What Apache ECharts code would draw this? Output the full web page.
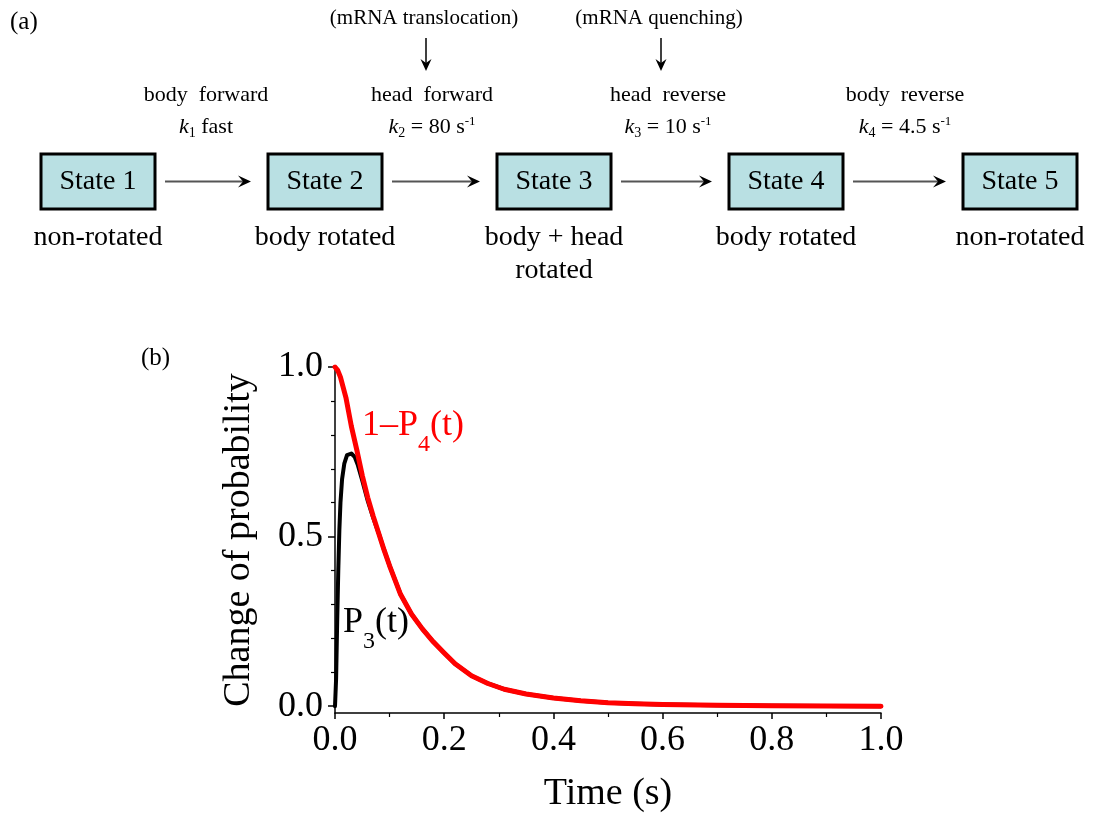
<!DOCTYPE html>
<html>
<head>
<meta charset="utf-8">
<script src="https://cdn.jsdelivr.net/npm/echarts@6/dist/echarts.min.js"></script>
<style>
html,body{margin:0;padding:0;background:#fff;}
#chart{width:1097px;height:815px;}
</style>
</head>
<body>
<div id="chart"></div>
<script>
// ---------------- data ----------------
const timeRed = [0, 0.005, 0.01, 0.02, 0.03, 0.04, 0.05, 0.06, 0.07, 0.08, 0.09, 0.10, 0.12, 0.14, 0.16, 0.18, 0.20, 0.22, 0.25, 0.28, 0.31, 0.35, 0.40, 0.45, 0.50, 0.55, 0.60, 0.70, 0.80, 0.90, 1.00];
const valueRed = [1.0, 0.99, 0.97, 0.91, 0.825, 0.755, 0.68, 0.615, 0.56, 0.51, 0.46, 0.414, 0.33, 0.272, 0.228, 0.19, 0.157, 0.125, 0.09, 0.067, 0.05, 0.036, 0.024, 0.016, 0.010, 0.007, 0.005, 0.003, 0.0015, 0.0005, 0.0];
const timeBlack = [0, 0.002, 0.004, 0.006, 0.008, 0.010, 0.013, 0.017, 0.022, 0.030, 0.036, 0.042, 0.05, 0.06, 0.07, 0.08, 0.09, 0.10, 0.12, 0.14, 0.16, 0.18, 0.20, 0.22, 0.25, 0.28, 0.31, 0.35, 0.40, 0.45, 0.50, 0.55, 0.60, 0.70, 0.80, 0.90, 1.00];
const valueBlack = [0, 0.08, 0.25, 0.40, 0.52, 0.60, 0.67, 0.715, 0.74, 0.745, 0.735, 0.71, 0.665, 0.605, 0.555, 0.51, 0.46, 0.414, 0.33, 0.272, 0.228, 0.19, 0.157, 0.125, 0.09, 0.067, 0.05, 0.036, 0.024, 0.016, 0.010, 0.007, 0.005, 0.003, 0.0015, 0.0005, 0.0];
const xTickValues = [0, 0.2, 0.4, 0.6, 0.8, 1.0];
const yTickValues = [0, 0.5, 1.0];
const yMinorTickValues = [0.1, 0.2, 0.3, 0.4, 0.6, 0.7, 0.8, 0.9];

const stateNames = ['State 1', 'State 2', 'State 3', 'State 4', 'State 5'];
const stateDescriptions = [['non-rotated'], ['body rotated'], ['body + head', 'rotated'], ['body rotated'], ['non-rotated']];
const transitionNames = ['body  forward', 'head  forward', 'head  reverse', 'body  reverse'];
const rateIndex = ['1', '2', '3', '4'];
const rateValues = ['fast', '80', '10', '4.5'];
const annotationTexts = [null, '(mRNA translocation)', '(mRNA quenching)', null];
const curveLabels = [
  {text: '{m|1–P}{s|4}{m|(t)}', t: 0.0495, v: 0.826, color: '#ff0000'},
  {text: '{m|P}{s|3}{m|(t)}', t: 0.0147, v: 0.246, color: '#000000'}
];

// ---------------- layout ----------------
const FONT = "'Liberation Serif', 'Times New Roman', serif";
const boxLeft = [41, 268, 497, 729, 963];
const boxW = 114, boxTop = 154, boxH = 55;
const transCenter = [206, 432, 668, 905];
const annotArrowX = [null, 426, 661];

const chart = echarts.init(document.getElementById('chart'), null, {renderer: 'canvas'});

const option = {
  animation: false,
  backgroundColor: '#ffffff',
  textStyle: {fontFamily: FONT},
  grid: {left: 335, top: 367, width: 546, height: 346, containLabel: false, outerBoundsMode: 'none'},
  xAxis: {
    type: 'value', min: 0, max: 1, interval: 0.2,
    name: 'Time (s)', nameLocation: 'middle', nameGap: 62,
    nameTextStyle: {fontSize: 38, color: '#000', fontFamily: FONT},
    axisLine: {show: true, onZero: false, lineStyle: {color: '#000', width: 1.5}},
    axisTick: {show: true, inside: false, length: 6, lineStyle: {color: '#000', width: 1.5}},
    minorTick: {show: true, splitNumber: 2, length: 4, lineStyle: {color: '#000', width: 1.2}},
    axisLabel: {
      fontSize: 36, color: '#000', fontFamily: FONT, margin: 10,
      customValues: xTickValues,
      formatter: v => v.toFixed(1)
    },
    splitLine: {show: false}
  },
  yAxis: [
    {
      type: 'value', min: -0.02, max: 1.0,
      name: 'Change of probability', nameLocation: 'middle', nameGap: 77,
      nameTextStyle: {fontSize: 38, color: '#000', fontFamily: FONT},
      axisLine: {show: true, onZero: false, lineStyle: {color: '#000', width: 1.5}},
      axisTick: {show: true, inside: false, length: 7, customValues: yTickValues, lineStyle: {color: '#000', width: 1.5}},
      axisLabel: {
        fontSize: 36, color: '#000', fontFamily: FONT, margin: 12,
        customValues: yTickValues,
        formatter: v => v.toFixed(1)
      },
      splitLine: {show: false}
    },
    {
      type: 'value', min: -0.02, max: 1.0, position: 'left',
      axisLine: {show: false},
      axisTick: {show: true, inside: false, length: 4, customValues: yMinorTickValues, lineStyle: {color: '#000', width: 1.2}},
      axisLabel: {show: false},
      splitLine: {show: false}
    }
  ],
  series: [
    {
      name: 'P3(t)', type: 'line', yAxisIndex: 0, showSymbol: false, symbol: 'none', smooth: false, z: 2,
      lineStyle: {color: '#000000', width: 4, join: 'round', cap: 'round'},
      data: timeBlack.map((t, i) => [t, valueBlack[i]])
    },
    {
      name: '1-P4(t)', type: 'line', yAxisIndex: 0, showSymbol: false, symbol: 'none', smooth: false, z: 3,
      lineStyle: {color: '#ff0000', width: 5, join: 'round', cap: 'round'},
      data: timeRed.map((t, i) => [t, valueRed[i]])
    }
  ]
};
chart.setOption(option);

// ---------------- diagram (a) and annotations ----------------
const g = [];
function txt(x, y, text, size, extra) {
  const style = Object.assign({
    text: text, x: 0, y: 0, fontSize: size, fontFamily: FONT, fill: '#000',
    align: 'center', verticalAlign: 'middle'
  }, extra || {});
  g.push({type: 'text', x: x, y: y, z: 10, style: style});
}
function arrowRight(x1, x2, y) {
  g.push({type: 'line', z: 9, shape: {x1: x1, y1: y, x2: x2 - 6, y2: y}, style: {stroke: '#555', lineWidth: 2}});
  g.push({type: 'polygon', z: 9, shape: {points: [[x2, y], [x2 - 13, y - 6], [x2 - 8, y], [x2 - 13, y + 6]]}, style: {fill: '#000'}});
}
function arrowDown(x, y1, y2) {
  g.push({type: 'line', z: 9, shape: {x1: x, y1: y1, x2: x, y2: y2 - 6}, style: {stroke: '#000', lineWidth: 1.5}});
  g.push({type: 'polygon', z: 9, shape: {points: [[x, y2], [x - 5.5, y2 - 12], [x, y2 - 8], [x + 5.5, y2 - 12]]}, style: {fill: '#000'}});
}

txt(10, 22, '(a)', 25, {align: 'left'});
txt(141, 358, '(b)', 25, {align: 'left'});

stateNames.forEach((s, i) => {
  const x = boxLeft[i];
  g.push({type: 'rect', z: 8, shape: {x: x, y: boxTop, width: boxW, height: boxH},
    style: {fill: '#b9e0e3', stroke: '#000', lineWidth: 3}});
  txt(x + boxW / 2, boxTop + boxH / 2, s, 28);
  stateDescriptions[i].forEach((line, j) => {
    txt(x + boxW / 2, 238 + 33 * j, line, 28);
  });
});

const rich = {
  n: {fontSize: 22, fontFamily: FONT, fill: '#000'},
  i: {fontSize: 22, fontFamily: FONT, fontStyle: 'italic', fill: '#000'},
  sb: {fontSize: 14, fontFamily: FONT, fill: '#000', padding: [12, 0, 0, 0]},
  sp: {fontSize: 13, fontFamily: FONT, fill: '#000', padding: [0, 0, 10, 0]}
};
transitionNames.forEach((name, i) => {
  const x1 = boxLeft[i] + boxW + 10;
  const x2 = boxLeft[i + 1] - 17;
  arrowRight(x1, x2, boxTop + boxH / 2);
  const cx = transCenter[i];
  txt(cx, 95, name, 22);
  let rateText;
  if (rateValues[i] === 'fast') rateText = '{i|k}{sb|' + rateIndex[i] + '}{n| fast}';
  else rateText = '{i|k}{sb|' + rateIndex[i] + '}{n| = ' + rateValues[i] + ' s}{sp|-1}';
  txt(cx, 127, rateText, 22, {rich: rich, lineHeight: 28});
  if (annotationTexts[i]) {
    txt(annotArrowX[i] - 2, 18, annotationTexts[i], 21);
    arrowDown(annotArrowX[i], 38, 71);
  }
});

curveLabels.forEach(l => {
  const p = chart.convertToPixel({gridIndex: 0}, [l.t, l.v]);
  txt(p[0], p[1], l.text, 36, {
    align: 'left', lineHeight: 44,
    rich: {
      m: {fontSize: 36, fontFamily: FONT, fill: l.color},
      s: {fontSize: 24, fontFamily: FONT, fill: l.color, padding: [38, 0, 0, 0]}
    }
  });
});

chart.setOption({graphic: {elements: g}});
</script>
</body>
</html>
